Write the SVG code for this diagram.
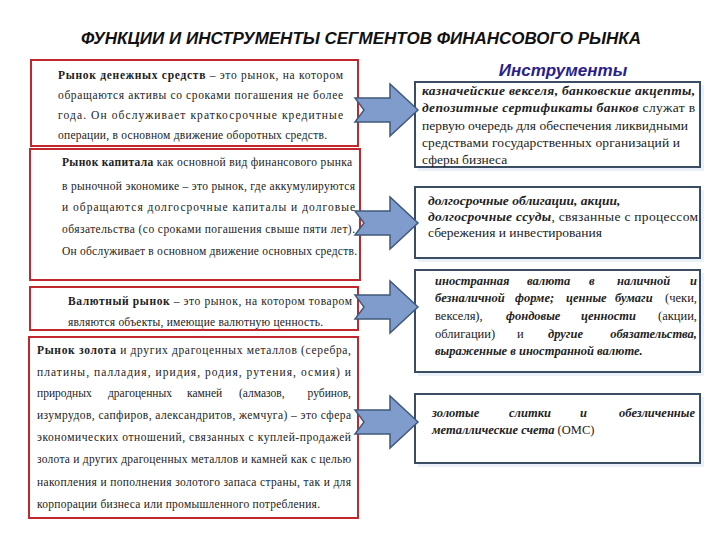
<svg xmlns="http://www.w3.org/2000/svg" width="720" height="540" viewBox="0 0 720 540">
<style>
.title{font-family:"Liberation Sans",Arial,sans-serif;font-weight:bold;font-style:italic;font-size:16px;fill:#111}
.head{font-family:"Liberation Sans",Arial,sans-serif;font-weight:bold;font-style:italic;font-size:17px;fill:#2a1f8a}
.lbox{fill:#fff;stroke:#c0282d;stroke-width:2}
.rbox{fill:#fff;stroke:#3b4d63;stroke-width:2}
.shadow{fill:#eaf0f8}
.lt{font-family:"Liberation Serif","Times New Roman",serif;font-size:11.5px;fill:#222}
.rt{font-family:"Liberation Serif","Times New Roman",serif;font-size:13.5px;fill:#222}
.rs{font-family:"Liberation Serif","Times New Roman",serif;font-size:12.5px;fill:#222}
.b{font-weight:bold}
.bi{font-weight:bold;font-style:italic}
.arrow{fill:#7f9ccc;stroke:#41597a;stroke-width:1.5;stroke-linejoin:miter}
</style>
<defs>
<path id="arr" d="M0,-12 L35,-12 L35,-26 L63,0 L35,26 L35,12 L0,12 L9,0 Z"/>
</defs>
<rect width="720" height="540" fill="#fff"/>
<text class="title" x="361" y="44" text-anchor="middle" textLength="560" lengthAdjust="spacingAndGlyphs">ФУНКЦИИ И ИНСТРУМЕНТЫ  СЕГМЕНТОВ ФИНАНСОВОГО РЫНКА</text>
<text class="head" x="563" y="76" text-anchor="middle">Инструменты</text>

<g id="money-market">
<rect class="lbox" x="31" y="60" width="327" height="86"/>
<text class="lt" x="58" y="79" textLength="285" lengthAdjust="spacing"><tspan class="b">Рынок денежных средств</tspan> – это рынок, на котором</text>
<text class="lt" x="58" y="99" textLength="285" lengthAdjust="spacing">обращаются активы со сроками погашения не более</text>
<text class="lt" x="58" y="119" textLength="285" lengthAdjust="spacing">года. Он обслуживает краткосрочные кредитные</text>
<text class="lt" x="58" y="139" textLength="269" lengthAdjust="spacing">операции, в основном движение оборотных средств.</text>
</g>

<g id="capital-market">
<rect class="lbox" x="30" y="149" width="330" height="131"/>
<text class="lt" x="62" y="166" textLength="290" lengthAdjust="spacing"><tspan class="b">Рынок капитала</tspan> как основной вид финансового рынка</text>
<text class="lt" x="62" y="190" textLength="293" lengthAdjust="spacing">в рыночной экономике – это рынок, где аккумулируются</text>
<text class="lt" x="62" y="211" textLength="293" lengthAdjust="spacing">и обращаются долгосрочные капиталы и долговые</text>
<text class="lt" x="62" y="233" textLength="293" lengthAdjust="spacing">обязательства (со сроками погашения свыше пяти лет).</text>
<text class="lt" x="62" y="255" textLength="295" lengthAdjust="spacing">Он обслуживает в основном движение основных средств.</text>
</g>

<g id="currency-market">
<rect class="lbox" x="30" y="287" width="328" height="43"/>
<text class="lt" x="68" y="305" textLength="284" lengthAdjust="spacing"><tspan class="b">Валютный рынок</tspan> – это рынок, на котором товаром</text>
<text class="lt" x="68" y="326" textLength="255" lengthAdjust="spacing">являются объекты, имеющие валютную ценность.</text>
</g>

<g id="gold-market">
<rect class="lbox" x="29" y="337" width="329" height="181"/>
<text class="lt" x="37" y="354" textLength="314" lengthAdjust="spacing"><tspan class="b">Рынок золота</tspan> и других драгоценных металлов (серебра,</text>
<text class="lt" x="37" y="376" textLength="314" lengthAdjust="spacing">платины, палладия, иридия, родия, рутения, осмия) и</text>
<text class="lt" y="397"><tspan x="37">природных</tspan> <tspan x="108">драгоценных</tspan> <tspan x="187">камней</tspan> <tspan x="239">(алмазов,</tspan></text>
<text class="lt" x="351" y="397" text-anchor="end">рубинов,</text>
<text class="lt" x="37" y="419" textLength="314" lengthAdjust="spacing">изумрудов, сапфиров, александритов, жемчуга) – это сфера</text>
<text class="lt" x="37" y="441" textLength="314" lengthAdjust="spacing">экономических отношений, связанных с куплей-продажей</text>
<text class="lt" x="37" y="463" textLength="314" lengthAdjust="spacing">золота и других драгоценных металлов и камней как с целью</text>
<text class="lt" x="37" y="486" textLength="314" lengthAdjust="spacing">накопления и пополнения золотого запаса страны, так и для</text>
<text class="lt" x="37" y="508" textLength="283" lengthAdjust="spacing">корпорации бизнеса или промышленного потребления.</text>
</g>

<g id="instr-money">
<rect class="shadow" x="418" y="85" width="286" height="86"/>
<rect class="rbox" x="415" y="82" width="285" height="85"/>
<text class="rt" x="422" y="95" textLength="273" lengthAdjust="spacing"><tspan class="bi">казначейские векселя, банковские акцепты,</tspan></text>
<text class="rt" x="422" y="112" textLength="273" lengthAdjust="spacing"><tspan class="bi">депозитные сертификаты банков</tspan> служат в</text>
<text class="rt" x="422" y="130" textLength="266" lengthAdjust="spacing">первую очередь для обеспечения ликвидными</text>
<text class="rt" x="422" y="147" textLength="258" lengthAdjust="spacing">средствами государственных организаций и</text>
<text class="rt" x="422" y="164">сферы бизнеса</text>
</g>

<g id="instr-capital">
<rect class="shadow" x="418" y="190" width="286" height="72"/>
<rect class="rbox" x="415" y="187" width="285" height="71"/>
<text class="rt" x="428" y="205"><tspan class="bi">долгосрочные облигации, акции,</tspan></text>
<text class="rt" x="428" y="221" textLength="270" lengthAdjust="spacing"><tspan class="bi">долгосрочные ссуды</tspan>, связанные с процессом</text>
<text class="rt" x="428" y="237">сбережения и инвестирования</text>
</g>

<g id="instr-currency">
<rect class="shadow" x="418" y="273" width="286" height="103"/>
<rect class="rbox" x="415" y="270" width="285" height="102"/>
<text class="rs bi" y="285"><tspan x="435">иностранная</tspan> <tspan x="527">валюта</tspan> <tspan x="589">в</tspan> <tspan x="617">наличной</tspan></text>
<text class="rs bi" x="697" y="285" text-anchor="end">и</text>
<text class="rs bi" y="302"><tspan x="435">безналичной</tspan> <tspan x="515">форме;</tspan> <tspan x="566">ценные</tspan> <tspan x="615">бумаги</tspan></text>
<text class="rs" x="697" y="302" text-anchor="end">(чеки,</text>
<text class="rs" y="320"><tspan x="435">векселя),</tspan> <tspan x="506" class="bi">фондовые</tspan> <tspan x="581" class="bi">ценности</tspan></text>
<text class="rs" x="697" y="320" text-anchor="end">(акции,</text>
<text class="rs" y="338"><tspan x="435">облигации)</tspan> <tspan x="517">и</tspan> <tspan x="548" class="bi">другие</tspan></text>
<text class="rs bi" x="697" y="338" text-anchor="end">обязательства,</text>
<text class="rs bi" x="435" y="355">выраженные в иностранной валюте.</text>
</g>

<g id="instr-gold">
<rect class="shadow" x="418" y="397" width="286" height="70"/>
<rect class="rbox" x="415" y="394" width="285" height="69"/>
<text class="rs bi" y="417"><tspan x="432">золотые</tspan> <tspan x="509">слитки</tspan> <tspan x="580">и</tspan></text>
<text class="rs bi" x="695" y="417" text-anchor="end">обезличенные</text>
<text class="rs" x="432" y="434"><tspan class="bi">металлические счета</tspan> (ОМС)</text>
</g>

<g id="connectors">
<use href="#arr" class="arrow" transform="translate(355,110)"/>
<use href="#arr" class="arrow" transform="translate(355,223)"/>
<use href="#arr" class="arrow" transform="translate(355,307)"/>
<use href="#arr" class="arrow" transform="translate(355,422)"/>
</g>
</svg>
